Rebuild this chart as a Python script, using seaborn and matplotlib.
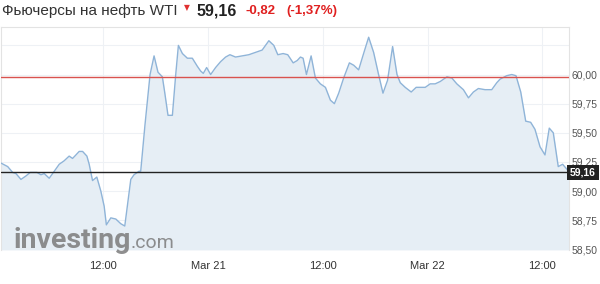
import matplotlib
matplotlib.use("Agg")
import matplotlib.pyplot as plt
import seaborn as sns
import pandas as pd

# trading hours since chart start, and price
hours = [0.00, 0.70, 1.22, 1.57, 2.09, 2.62, 3.06, 3.48, 3.77, 4.18, 4.53, 5.05, 5.58, 6.10,
         6.62, 7.14, 7.50, 7.85, 8.19, 8.55, 9.00, 9.24, 9.59, 10.04, 10.46, 10.81, 11.04,
         11.51, 12.03, 12.55, 12.97, 13.60, 13.94, 14.47, 14.64, 15.09, 15.62, 16.04, 16.45,
         16.91, 17.15, 17.50, 17.96, 18.31, 18.59, 19.01, 19.53, 20.05, 20.58, 20.92, 21.20,
         21.55, 21.97, 22.49, 23.01, 23.54, 23.99, 24.58, 25.28, 25.97, 26.67, 27.37, 27.72,
         28.07, 28.59, 29.01, 29.57, 30.05, 30.62, 31.04, 31.38, 31.66, 32.01, 32.50, 32.95,
         33.47, 34.00, 34.52, 34.94, 35.39, 35.91, 36.51, 36.96, 37.48, 38.00, 38.53, 39.05,
         39.57, 40.03, 40.51, 41.04, 41.50, 41.84, 42.36, 42.99, 43.51, 44.46, 44.98, 45.50,
         46.03, 46.73, 47.25, 47.77, 48.46, 48.99, 49.51, 50.03, 50.73, 51.43, 51.96, 52.30,
         53.00, 53.53, 53.97, 54.47, 54.99, 55.51, 55.96, 56.49, 57.01, 57.46, 57.88, 58.40,
         58.86, 59.28, 59.55]
price = [59.24, 59.21, 59.16, 59.15, 59.10, 59.13, 59.16, 59.16, 59.16, 59.14, 59.15, 59.11, 59.17, 59.23,
         59.26, 59.30, 59.28, 59.31, 59.34, 59.34, 59.30, 59.23, 59.09, 59.12, 59.00, 58.87, 58.71,
         58.77, 58.76, 58.72, 58.70, 59.10, 59.14, 59.17, 59.17, 59.57, 60.00, 60.16, 60.02,
         59.98, 59.85, 59.65, 59.65, 60.00, 60.25, 60.18, 60.14, 60.14, 60.07, 60.03, 60.01,
         60.06, 60.00, 60.06, 60.11, 60.15, 60.17, 60.15, 60.16, 60.17, 60.19, 60.21, 60.25,
         60.29, 60.25, 60.17, 60.18, 60.17, 60.10, 60.12, 60.15, 60.14, 60.00, 60.16, 59.97,
         59.92, 59.89, 59.78, 59.75, 59.84, 59.97, 60.10, 60.08, 60.04, 60.18, 60.32, 60.19,
         60.00, 59.84, 59.95, 60.24, 60.00, 59.93, 59.89, 59.85, 59.89, 59.89, 59.92, 59.92,
         59.94, 59.98, 59.97, 59.92, 59.87, 59.80, 59.85, 59.88, 59.87, 59.87, 59.93, 59.96,
         59.99, 60.00, 59.99, 59.85, 59.60, 59.59, 59.53, 59.38, 59.31, 59.54, 59.50, 59.21,
         59.23, 59.19, 59.16]

x_tick_pos = [10.7, 21.7, 33.7, 44.7, 56.7]
x_tick_labels = ["12:00", "Mar 21", "12:00", "Mar 22", "12:00"]
y_grid = [58.50, 58.75, 59.00, 59.25, 59.50, 59.75, 60.00, 60.25]
y_labels = ["58,50", "58,75", "59,00", "59,25", "59,50", "59,75", "60,00"]

last_price = 59.16
prev_close = 59.98
title_name = "Фьючерсы на нефть WTI"
title_price = "59,16"
title_change = "-0,82"
title_pct = "(-1,37%)"

sns.set_theme(style="white")
plt.rcParams['font.family'] = ['Liberation Sans', 'DejaVu Sans']

df = pd.DataFrame({"t": hours, "p": price})

fig = plt.figure(figsize=(6.0, 2.84), dpi=100)
ax = fig.add_axes([0.0017, 0.12, 0.947, 0.785])
ymin, ymax = 58.495, 60.408
ax.set_xlim(0, 59.55)
ax.set_ylim(ymin, ymax)

for y in y_grid:
    ax.axhline(y, color="#eef1f5", lw=0.8, zorder=0)
for x in x_tick_pos:
    ax.axvline(x, color="#eef1f5", lw=0.8, zorder=0)

ax.fill_between(df["t"], df["p"], ymin, color="#e6eef5", zorder=1, lw=0)
sns.lineplot(data=df, x="t", y="p", ax=ax, color="#8fb4d8", lw=1.0, zorder=3)

ax.axhline(prev_close, color="#d9534f", lw=1.0, zorder=4)
ax.axhline(last_price, color="#222222", lw=1.0, zorder=4)

ax.set_xticks(x_tick_pos)
ax.set_xticklabels(x_tick_labels, fontsize=8, color="#333333")
ax.tick_params(axis="x", length=0, pad=8)
ax.yaxis.tick_right()
ax.set_yticks(y_grid[:-1])
ax.set_yticklabels(y_labels, fontsize=7.5, color="#555555")
ax.tick_params(axis="y", length=0, pad=2)
ax.set_xlabel("")
ax.set_ylabel("")
for s in ["top", "left", "right"]:
    ax.spines[s].set_color("#e3e3e3")
    ax.spines[s].set_linewidth(0.8)
ax.spines["bottom"].set_visible(False)

# last price box
ax.text(1.0015, (last_price - ymin) / (ymax - ymin), "59,16", transform=ax.transAxes,
        ha="left", va="center", fontsize=7.5, color="white", fontweight="bold", zorder=6,
        bbox=dict(boxstyle="square,pad=0.25", fc="#222222", ec="none"))

# watermark
fig.text(0.022, 0.125, "investing", fontsize=20.5, fontweight="bold", color="#7b7b7b",
         family="Roboto", ha="left", va="baseline", alpha=0.85, zorder=10)
fig.text(0.217, 0.125, ".com", fontsize=14, color="#7b7b7b", family="Roboto",
         ha="left", va="baseline", alpha=0.85, zorder=10)

# title
ty = 0.962
fig.text(0.003, ty, title_name, fontsize=11, color="#333333", ha="left", va="center")
fig.text(0.312, 0.975, "▼", fontsize=5.5, color="#e03030", ha="center", va="center",
         family=["DejaVu Sans"])
fig.text(0.327, ty, title_price, fontsize=11.5, fontweight="bold", color="#222222",
         ha="left", va="center")
fig.text(0.409, ty, title_change, fontsize=9.5, fontweight="bold", color="#e02020",
         ha="left", va="center")
fig.text(0.477, ty, title_pct, fontsize=9.5, fontweight="bold", color="#e02020",
         ha="left", va="center")

fig.savefig("out.png", dpi=100)
